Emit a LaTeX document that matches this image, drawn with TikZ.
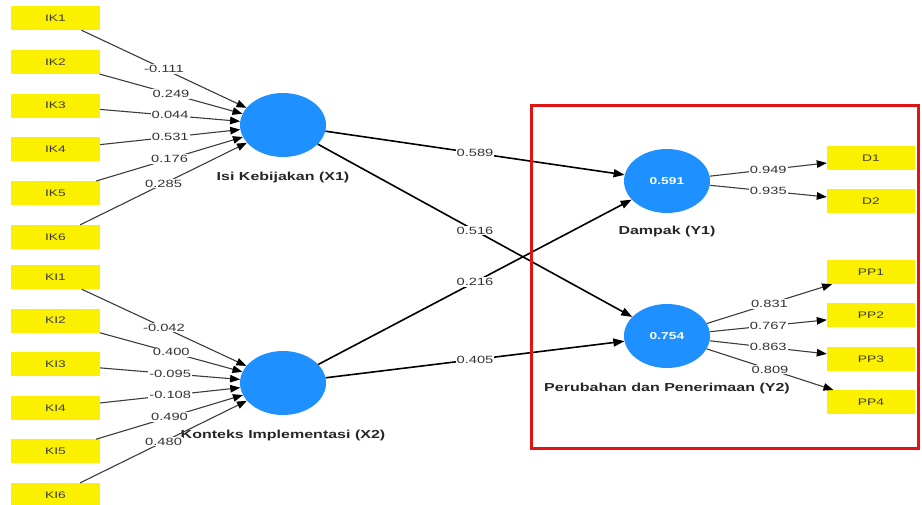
\documentclass[tikz,border=0pt]{standalone}
\usepackage{fontspec}
\setmainfont{Liberation Sans}
\newfontfamily\boxfont{Liberation Sans}[FakeStretch=1.45]
\newfontfamily\valfont{Liberation Sans}[FakeStretch=1.4]
\newfontfamily\namefont{Liberation Sans Bold}[FakeStretch=1.38]
\usetikzlibrary{positioning,shapes.geometric,arrows.meta}
\definecolor{plsyellow}{RGB}{250,240,0}
\definecolor{plsblue}{RGB}{30,144,255}
\definecolor{plsred}{RGB}{225,20,20}
\definecolor{plsgray}{RGB}{60,60,60}
\tikzset{
  indicator/.style={fill=plsyellow, minimum width=89pt, minimum height=24pt, inner sep=0pt,
    font=\boxfont\fontsize{9.5}{9.5}\selectfont, text=plsgray},
  latent/.style={ellipse, fill=plsblue, minimum width=86pt, minimum height=64pt, inner sep=0pt,
    text=white, font=\namefont\fontsize{10}{10}\selectfont},
  latentname/.style={inner sep=1pt, font=\namefont\fontsize{11.6}{12}\selectfont, text=black!85},
  weight/.style={fill=white, inner sep=1pt, font=\valfont\fontsize{10.5}{10.5}\selectfont, text=black!80},
  loading/.style={draw=plsgray, line width=1.1pt, -{Triangle[length=10pt,width=7.5pt,color=black]}},
  structural/.style={draw=black, line width=1.6pt, -{Triangle[length=11pt,width=8pt]}},
}

\begin{document}
\begin{tikzpicture}[x=1pt,y=-1pt]
  \useasboundingbox (0,0) rectangle (922,504);
  \clip (0,0) rectangle (922,504);
  %
  \node[latent] (x1) at (283,125) {};
  \node[latent] (x2) at (283,383) {};
  \node[latent] (y1) at (667,181) {0.591};
  \node[latent] (y2) at (667,336) {0.754};
  \node[latentname, below=14pt of x1] (x1n) {Isi Kebijakan (X1)};
  \node[latentname, below=14pt of x2] (x2n) {Konteks Implementasi (X2)};
  \node[latentname, below=12pt of y1] (y1n) {Dampak (Y1)};
  \node[latentname, below=14pt of y2] (y2n) {Perubahan dan Penerimaan (Y2)};
  %
  \node[indicator] (ik1) at (55.5,18) {IK1};
  \node[indicator, below=19.4pt of ik1] (ik2) {IK2};
  \node[indicator, below=19.4pt of ik2] (ik3) {IK3};
  \node[indicator, below=19.4pt of ik3] (ik4) {IK4};
  \node[indicator, below=19.4pt of ik4] (ik5) {IK5};
  \node[indicator, below=19.4pt of ik5] (ik6) {IK6};
  \node[indicator] (ki1) at (55.5,277) {KI1};
  \node[indicator, below=19.2pt of ki1] (ki2) {KI2};
  \node[indicator, below=19.2pt of ki2] (ki3) {KI3};
  \node[indicator, below=19.2pt of ki3] (ki4) {KI4};
  \node[indicator, below=19.2pt of ki4] (ki5) {KI5};
  \node[indicator, below=19.2pt of ki5] (ki6) {KI6};
  \node[indicator, minimum width=88pt] (d1) at (871,158) {D1};
  \node[indicator, minimum width=88pt, below=19pt of d1] (d2) {D2};
  \node[indicator, minimum width=88pt] (pp1) at (871,272) {PP1};
  \node[indicator, minimum width=88pt, below=19pt of pp1] (pp2) {PP2};
  \node[indicator, minimum width=88pt, below=19pt of pp2] (pp3) {PP3};
  \node[indicator, minimum width=88pt, below=19pt of pp3] (pp4) {PP4};
  %
  \draw[loading] (ik1) -- node[weight] {-0.111} (x1);
  \draw[loading] (ik2) -- node[weight] {0.249} (x1);
  \draw[loading] (ik3) -- node[weight] {0.044} (x1);
  \draw[loading] (ik4) -- node[weight] {0.531} (x1);
  \draw[loading] (ik5) -- node[weight] {0.176} (x1);
  \draw[loading] (ik6) -- node[weight] {0.285} (x1);
  \draw[loading] (ki1) -- node[weight] {-0.042} (x2);
  \draw[loading] (ki2) -- node[weight] {0.400} (x2);
  \draw[loading] (ki3) -- node[weight] {-0.095} (x2);
  \draw[loading] (ki4) -- node[weight] {-0.108} (x2);
  \draw[loading] (ki5) -- node[weight] {0.490} (x2);
  \draw[loading] (ki6) -- node[weight] {0.480} (x2);
  \draw[loading] (y1) -- node[weight] {0.949} (d1);
  \draw[loading] (y1) -- node[weight] {0.935} (d2);
  \draw[loading] (y2) -- node[weight] {0.831} (pp1);
  \draw[loading] (y2) -- node[weight] {0.767} (pp2);
  \draw[loading] (y2) -- node[weight] {0.863} (pp3);
  \draw[loading] (y2) -- node[weight] {0.809} (pp4);
  %
  \draw[structural] (x1) -- node[weight] {0.589} (y1);
  \draw[structural] (x1) -- node[weight] {0.516} (y2);
  \draw[structural] (x2) -- node[weight] {0.216} (y1);
  \draw[structural] (x2) -- node[weight] {0.405} (y2);
  %
  \draw[plsred, line width=3pt] (531,105) rectangle (918,448);
\end{tikzpicture}
\end{document}
